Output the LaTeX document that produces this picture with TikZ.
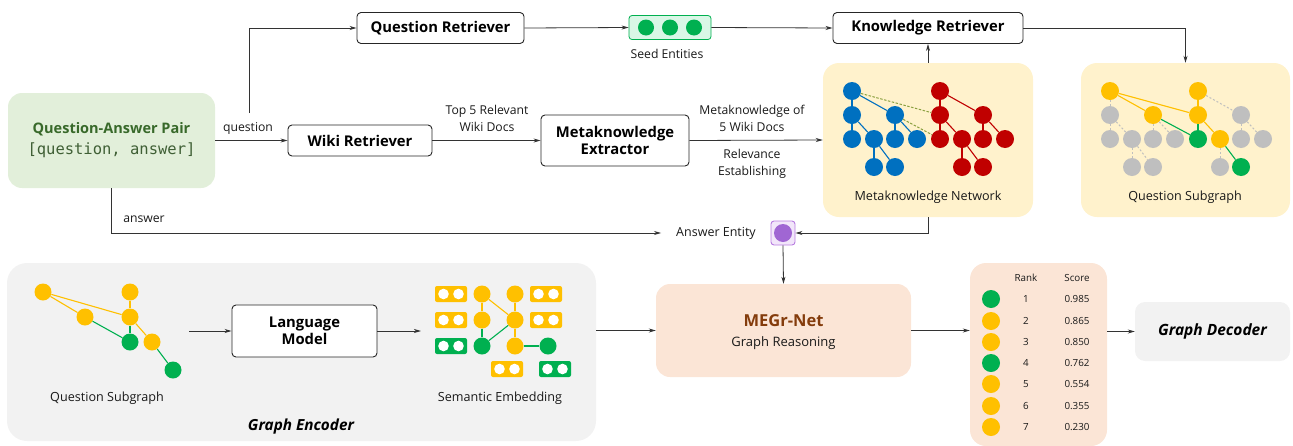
\documentclass[tikz,border=0pt]{standalone}
\usepackage{fontspec}
\setmainfont{Open Sans}
\newfontfamily\monof{DejaVu Sans Mono}
\usetikzlibrary{arrows.meta,calc}
\definecolor{qagreen}{HTML}{E2EFDA}
\definecolor{qatext}{HTML}{38692A}
\definecolor{qamono}{HTML}{3F5F35}
\definecolor{ypanel}{HTML}{FFF2CC}
\definecolor{opanel}{HTML}{FBE5D6}
\definecolor{gpanel}{HTML}{F2F2F2}
\definecolor{cblue}{HTML}{0070C0}
\definecolor{cred}{HTML}{C00000}
\definecolor{cyellow}{HTML}{FFC000}
\definecolor{cgreen}{HTML}{00B050}
\definecolor{cgray}{HTML}{BFBFBF}
\definecolor{cpurple}{HTML}{A066D3}
\definecolor{purplefill}{HTML}{F2E6FA}
\definecolor{purpleborder}{HTML}{B77BE0}
\definecolor{seedfill}{HTML}{D9F7E6}
\definecolor{megrbrown}{HTML}{843C0C}
\definecolor{olivedash}{HTML}{8AA040}
\definecolor{linegray}{HTML}{333333}
\newcommand\embbox[3]{%
  \node[emb, fill=#3] (#1) at (#2) {};
  \fill[white] ($(#1)+(-7.5,0)$) circle (5.3);
  \fill[white] ($(#1)+(7.5,0)$) circle (5.3);}
\begin{document}
\begin{tikzpicture}[x=1pt,y=-1pt,
  box/.style={draw=black!85, line width=0.9pt, rounded corners=4pt, fill=white,
    font=\bfseries\fontsize{14.8}{17}\selectfont, align=center, inner sep=0pt},
  panel/.style={rounded corners=14pt, inner sep=0pt},
  lbl/.style={font=\fontsize{12.2}{17}\selectfont, align=center, inner sep=0pt, text=black!90},
  small/.style={font=\fontsize{9.8}{12}\selectfont, inner sep=0pt, text=black!90},
  arr/.style={draw=linegray, line width=0.8pt, -{Stealth[length=7pt,width=4pt,inset=2pt]}},
  dot/.style={circle, minimum size=18pt, inner sep=0pt},
  sdot/.style={circle, minimum size=17pt, inner sep=0pt},
  edge/.style={line width=1.1pt},
  gdash/.style={draw=cgray, line width=1pt, dash pattern=on 2pt off 2pt},
  emb/.style={rounded corners=2pt, minimum width=32pt, minimum height=16pt, inner sep=0pt},
]
\useasboundingbox (0,0) rectangle (1293,445);

% ---------- panels ----------
\node[panel, fill=qagreen, minimum width=207pt, minimum height=95pt, align=center,
  font=\fontsize{14.5}{21}\selectfont] (qa) at (111.5,140.5)
  {{\color{qatext}\bfseries Question-Answer Pair}\\{\monof\fontsize{15.5}{21}\selectfont\color{qamono}[question, answer]}};
\node[panel, fill=ypanel, rounded corners=16pt, minimum width=210pt, minimum height=154pt] (mkn) at (928,140) {};
\node[panel, fill=ypanel, rounded corners=16pt, minimum width=209pt, minimum height=154pt] (qsg) at (1185.5,140) {};
\node[panel, fill=gpanel, rounded corners=20pt, minimum width=589pt, minimum height=178pt] (ge) at (301.5,352) {};
\node[panel, fill=opanel, minimum width=255pt, minimum height=93pt] (megr) at (783.5,330.5) {};
\node[panel, fill=opanel, rounded corners=16pt, minimum width=137pt, minimum height=183pt] (rk) at (1038.5,354.5) {};
\node[panel, fill=gpanel, rounded corners=10pt, minimum width=155pt, minimum height=59pt,
  font=\bfseries\itshape\fontsize{15.5}{18}\selectfont] (gd) at (1212.5,331.5) {Graph Decoder};

% ---------- boxes ----------
\node[box, minimum width=167pt, minimum height=31pt] (qr) at (440.5,28) {Question Retriever};
\node[box, minimum width=144pt, minimum height=31pt] (wr) at (360,140.5) {Wiki Retriever};
\node[box, minimum width=148pt, minimum height=51pt] (me) at (615,140.5) {Metaknowledge\\Extractor};
\node[box, minimum width=190pt, minimum height=31pt] (kr) at (928,28) {Knowledge Retriever};
\node[box, minimum width=145pt, minimum height=52pt] (lm) at (304.5,331) {Language\\Model};

% ---------- seed entities ----------
\node[draw=cgreen, fill=seedfill, line width=0.8pt, rounded corners=3pt, minimum width=82pt,
  minimum height=24pt, inner sep=0pt] (seed) at (670,27.5) {};
\node[dot, minimum size=16pt, fill=cgreen] (sd1) at (646,27.5) {};
\node[dot, minimum size=16pt, fill=cgreen] (sd2) at (670,27.5) {};
\node[dot, minimum size=16pt, fill=cgreen] (sd3) at (694,27.5) {};
\node[lbl] (seedl) at (667,54) {Seed Entities};

% ---------- answer entity ----------
\node[lbl, font=\fontsize{12.5}{15}\selectfont, inner xsep=15pt] (ae) at (716,233) {Answer Entity};
\node[draw=purpleborder, fill=purplefill, line width=0.9pt, rounded corners=3pt,
  minimum size=24pt, inner sep=0pt] (pe) at (783,233) {};
\node[dot, fill=cpurple] (ped) at (783,233) {};

% ---------- labels ----------
\node[lbl] (ql) at (248,128) {question};
\node[lbl] (al) at (144,219) {answer};
\node[lbl] (wl) at (487,118.5) {Top 5 Relevant\\Wiki Docs};
\node[lbl] (ml) at (752,118.5) {Metaknowledge of\\5 Wiki Docs};
\node[lbl] (rl) at (752,164) {Relevance\\Establishing};
\node[lbl, font=\fontsize{12.6}{15}\selectfont] (mknl) at (928,197) {Metaknowledge Network};
\node[lbl, font=\fontsize{12.6}{15}\selectfont] (qsgl) at (1185,197) {Question Subgraph};
\node[lbl, font=\fontsize{12.6}{15}\selectfont] (qsl2) at (107,398) {Question Subgraph};
\node[lbl, font=\fontsize{12.6}{15}\selectfont] (sel) at (500,398) {Semantic Embedding};
\node[font=\bfseries\itshape\fontsize{15.3}{18}\selectfont, inner sep=0pt] (gel) at (301,427) {Graph Encoder};
\node[font=\bfseries\fontsize{16.5}{20}\selectfont, text=megrbrown, inner sep=0pt] (megrt) at (783.5,321) {MEGr-Net};
\node[lbl, font=\fontsize{13}{15}\selectfont] (megrs) at (783.5,343) {Graph Reasoning};

% ---------- connectors ----------
\coordinate (qsplit) at (249,113);
\draw[arr] (qa.east) -- (wr.west);
\draw[arr] (qsplit) |- (qr.west);
\draw[arr] (qr.east) -- (seed.west);
\draw[arr] (seed.east) -- (kr.west);
\draw[arr] (kr.east) -| (qsg.north);
\draw[arr] (mkn.north) -- (kr.south);
\draw[arr] (wr.east) -- (me.west);
\draw[arr] (me.east) -- (mkn.west);
\draw[arr] (qa.south) |- (ae.west);
\draw[arr] (mkn.south) |- (pe.east);
\draw[arr] (pe.south) -- (megr.north);
\draw[arr] (ge.east |- megr.west) -- (megr.west);
\draw[arr] (megr.east) -- (rk.west |- megr.east);
\draw[arr] (rk.east |- gd.west) -- (gd.west);
\coordinate (lmin) at (189,331);
\coordinate (embin) at (421,331);
\draw[arr] (lmin) -- (lm.west);
\draw[arr] (lm.east) -- (embin);

% ---------- metaknowledge network ----------
\foreach \n/\dx/\dy in {1/0/0,2/0/24,3/43/24,4/0/48,5/22/48,6/43/48,7/65/48,8/22/76,9/43/76}{
  \node[dot,fill=cblue] (b\n) at (852+\dx,91+\dy) {};
  \node[dot,fill=cred] (r\n) at (940+\dx,91+\dy) {};
}
\foreach \a/\b in {1/2,1/3,2/4,2/5,3/6,3/7,5/8,5/9}{
  \draw[edge,cblue] (b\a) -- (b\b);
  \draw[edge,cred] (r\a) -- (r\b);
}
\draw[olivedash, line width=1pt, dash pattern=on 2.5pt off 1.5pt] (b1) -- (r2);
\draw[olivedash, line width=1pt, dash pattern=on 2.5pt off 1.5pt] (b3) -- (r4);

% ---------- question subgraph (top) ----------
\foreach \n/\dx/\dy/\c in {1/0/0/cyellow,2/0/24/cgray,3/43/24/cyellow,4/0/48/cgray,5/22/48/cgray,
  6/43/48/cgray,7/65/48/cgray,8/22/76/cgray,9/43/76/cgray}{
  \node[dot,fill=\c] (q\n) at (1110+\dx,91+\dy) {};
}
\foreach \n/\dx/\dy/\c in {1/0/0/cyellow,2/0/24/cyellow,3/43/24/cgray,4/0/48/cgreen,5/22/48/cyellow,
  6/43/48/cgray,7/65/48/cgray,8/22/76/cgray,9/43/76/cgreen}{
  \node[dot,fill=\c] (p\n) at (1198+\dx,91+\dy) {};
}
\foreach \a/\b in {1/2,2/4,2/5,3/6,3/7,5/8,5/9}{\draw[gdash] (q\a) -- (q\b);}
\foreach \a/\b in {1/3,3/6,3/7,5/8}{\draw[gdash] (p\a) -- (p\b);}
\draw[edge,cyellow] (q1) -- (q3);
\draw[edge,cyellow] (q1) -- (p2);
\draw[edge,cgreen] (q3) -- (p4);
\draw[edge,cyellow] (p1) -- (p2);
\draw[edge,cgreen] (p2) -- (p4);
\draw[edge,cyellow] (p2) -- (p5);
\draw[edge,cgreen] (p5) -- (p9);

% ---------- question subgraph (bottom) ----------
\node[sdot,fill=cyellow] (ga) at (43,292) {};
\node[sdot,fill=cyellow] (gb) at (130,292) {};
\node[sdot,fill=cyellow] (gc) at (85,317) {};
\node[sdot,fill=cyellow] (gdd) at (130,317) {};
\node[sdot,fill=cgreen] (gee) at (130,342) {};
\node[sdot,fill=cyellow] (gf) at (152,342) {};
\node[sdot,fill=cgreen] (gg) at (173,370) {};
\draw[edge,cyellow] (ga) -- (gdd);
\draw[edge,cyellow] (ga) -- (gc);
\draw[edge,cyellow] (gb) -- (gdd);
\draw[edge,cgreen] (gc) -- (gee);
\draw[edge,cgreen] (gdd) -- (gee);
\draw[edge,cyellow] (gdd) -- (gf);
\draw[edge,cgreen] (gf) -- (gg);

% ---------- semantic embedding ----------
\node[sdot,fill=cyellow] (s1) at (482,294) {};
\node[sdot,fill=cyellow] (s2) at (482,320) {};
\node[sdot,fill=cgreen] (s3) at (482,346) {};
\node[sdot,fill=cyellow] (s4) at (515,294) {};
\node[sdot,fill=cyellow] (s5) at (515,320) {};
\node[sdot,fill=cyellow] (s6) at (515,346) {};
\node[sdot,fill=cgreen] (s7) at (548,346) {};
\draw[edge,cyellow] (s1) -- (s2);
\draw[edge,cgreen] (s2) -- (s3);
\draw[edge,cyellow] (s1) -- (s5);
\draw[edge,cgreen] (s3) -- (s5);
\draw[edge,cyellow] (s4) -- (s5);
\draw[edge,cyellow] (s5) -- (s6);
\draw[edge,cgreen] (s6) -- (s7);
\embbox{e1}{451,294}{cyellow}
\embbox{e2}{451,320}{cyellow}
\embbox{e3}{451,346}{cgreen}
\embbox{e4}{546,294}{cyellow}
\embbox{e5}{546,320}{cyellow}
\embbox{e6}{507,369}{cyellow}
\embbox{e7}{555,369}{cgreen}

% ---------- ranking ----------
\node[small] (rkh1) at (1026,278) {Rank};
\node[small] (rkh2) at (1077,278) {Score};
\foreach \i/\y/\c/\s in {1/299/cgreen/0.985,2/321/cyellow/0.865,3/342/cyellow/0.850,4/363/cgreen/0.762,
  5/384/cyellow/0.554,6/406/cyellow/0.355,7/427/cyellow/0.230}{
  \node[dot,fill=\c] (rc\i) at (991,\y) {};
  \node[small] (rn\i) at (1026,\y) {\i};
  \node[small] (rs\i) at (1077,\y) {\s};
}
\end{tikzpicture}
\end{document}
